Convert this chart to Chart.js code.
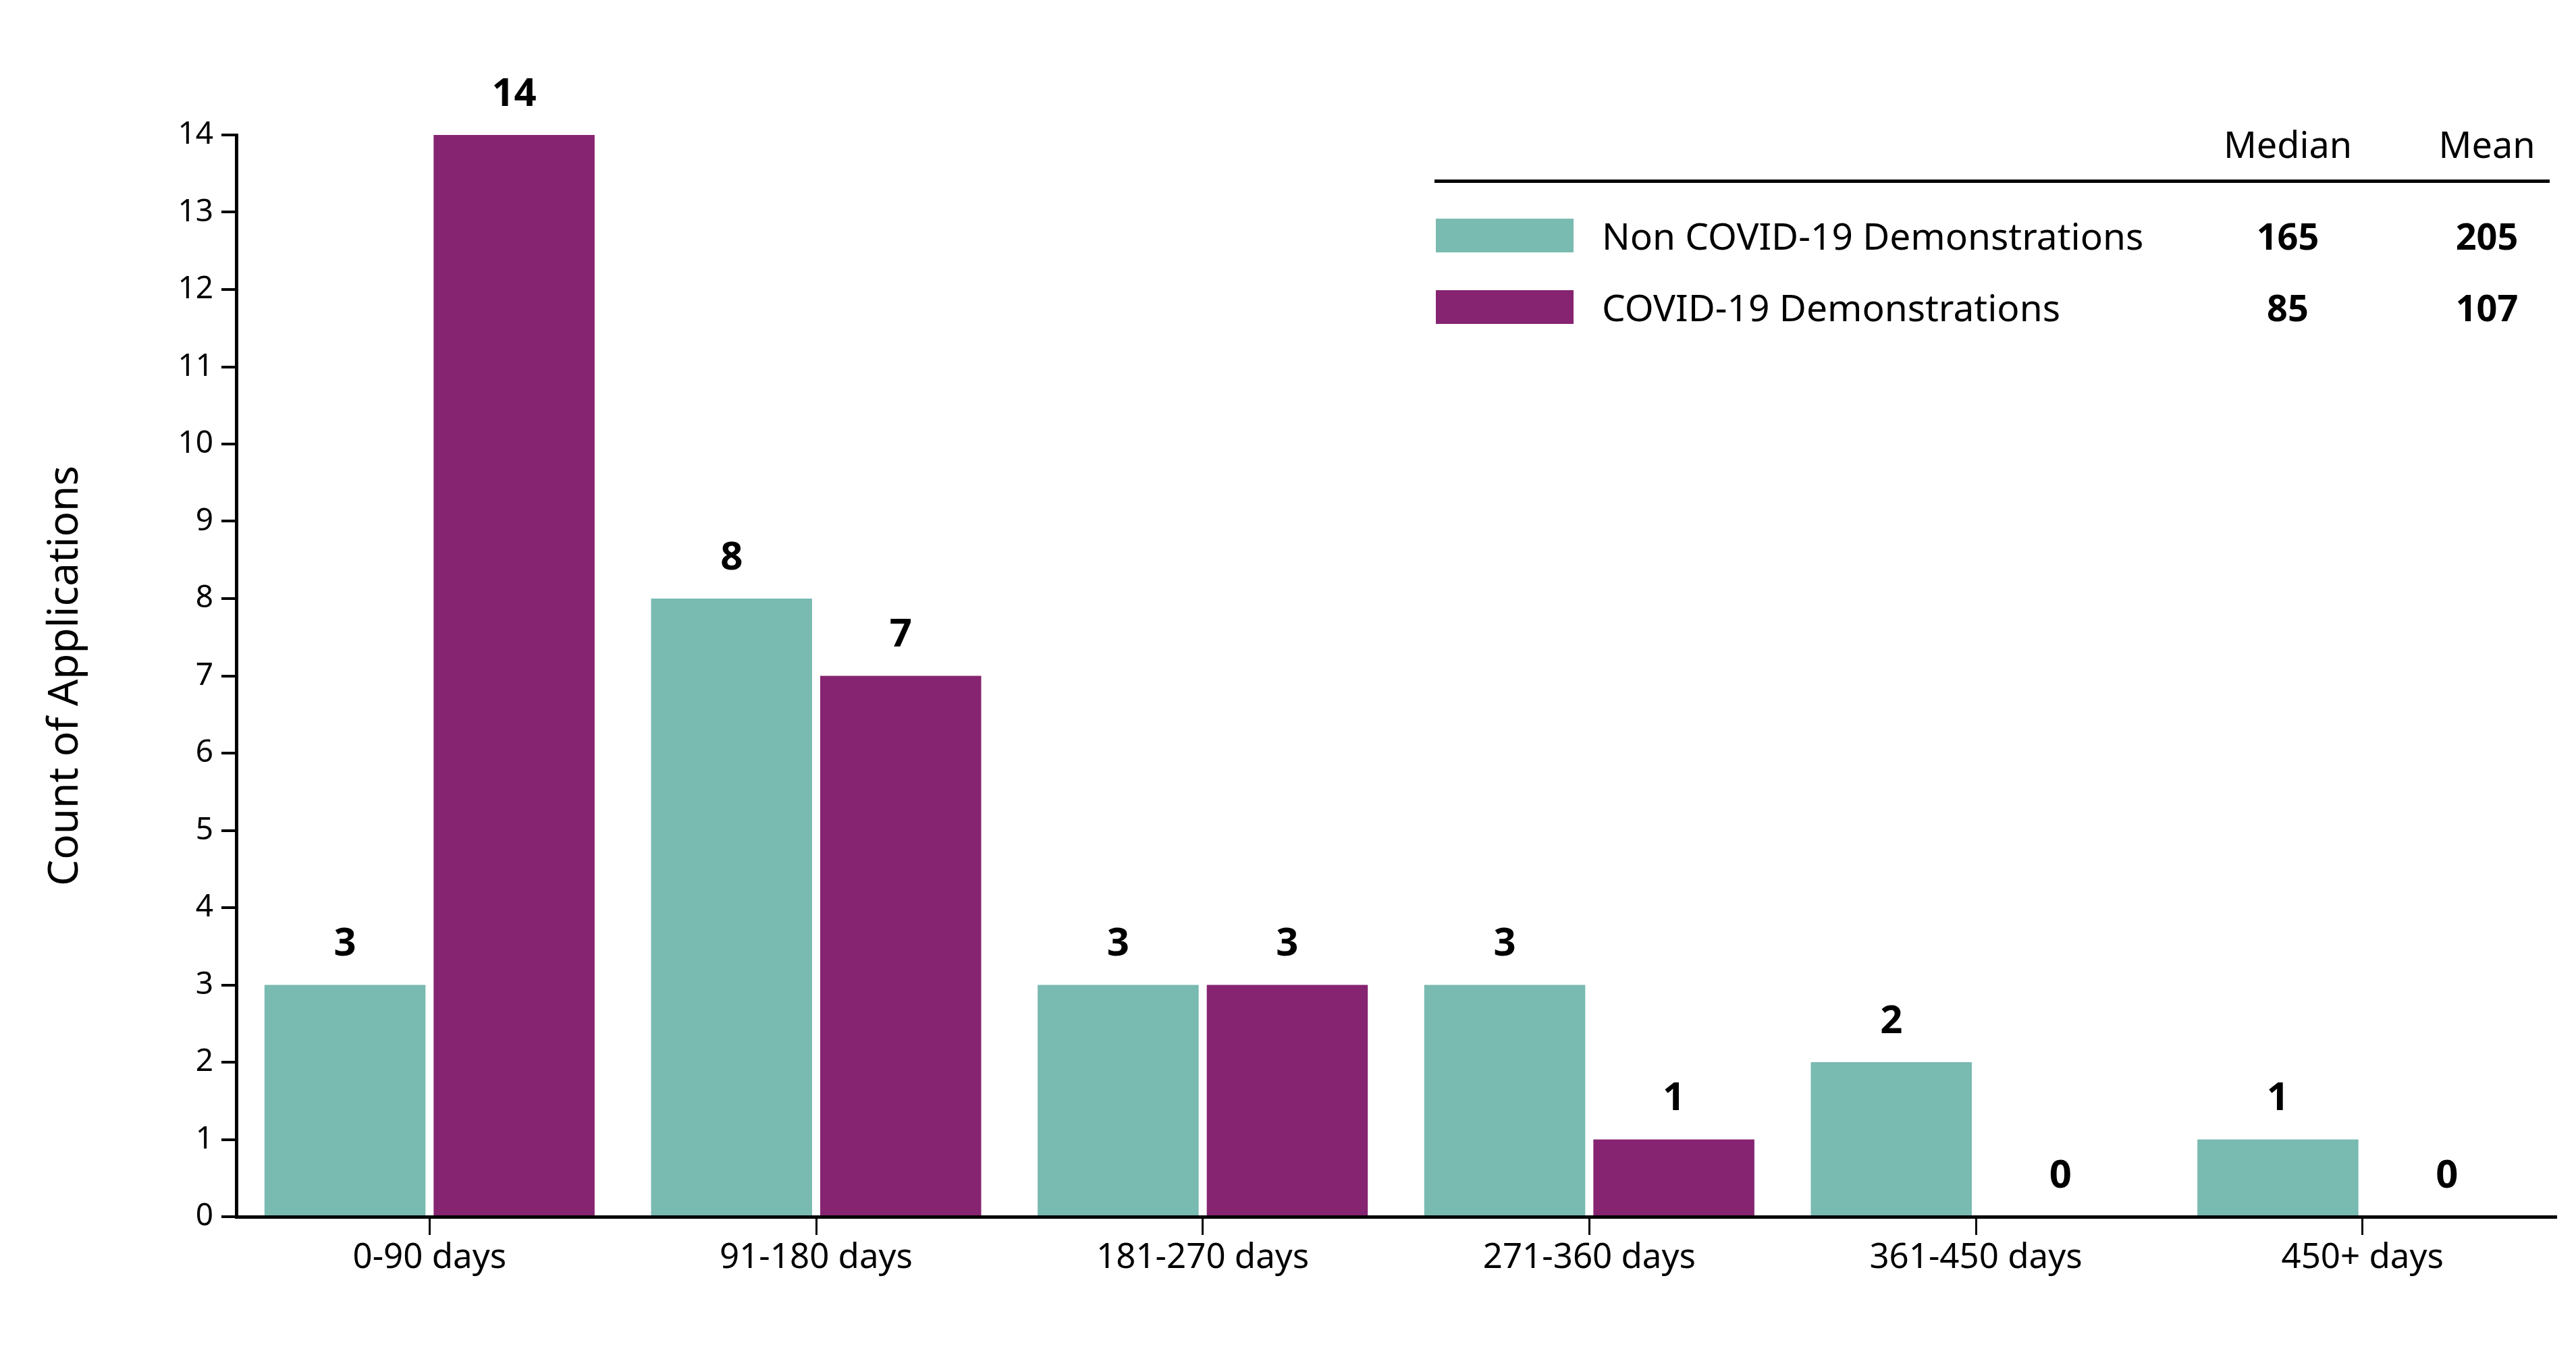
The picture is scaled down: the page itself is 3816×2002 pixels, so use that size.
<!DOCTYPE html>
<html>
<head>
<meta charset="utf-8">
<script src="https://cdn.jsdelivr.net/npm/chart.js@4.4.1/dist/chart.umd.min.js"></script>
<style>
  html, body { margin: 0; padding: 0; background: #fff; }
  #wrap { position: relative; width: 3816px; height: 2002px; }
  #legend { position: absolute; left: 0; top: 0; width: 3816px; height: 520px; pointer-events: none;
    font-family: 'Source Sans Pro', 'Noto Sans', sans-serif; color: #000; }
  .hdr { position: absolute; top: 182px; font-size: 54px; line-height: 62px; transform: translateX(-50%); }
  .rule { position: absolute; left: 2125px; top: 266px; width: 1652px; height: 5px; background: #000; }
  .sw { position: absolute; left: 2127px; width: 204px; height: 50px; }
  .name { position: absolute; left: 2373px; font-size: 55px; line-height: 62px; }
  .val { position: absolute; font-size: 54px; line-height: 62px; font-weight: bold; transform: translateX(-50%); }
</style>
</head>
<body>
<div id="wrap">
  <canvas id="chart"></canvas>
  <div id="legend"></div>
</div>
<script>
const categories = ['0-90 days', '91-180 days', '181-270 days', '271-360 days', '361-450 days', '450+ days'];
const seriesNames = ['Non COVID-19 Demonstrations', 'COVID-19 Demonstrations'];
const nonCovid = [3, 8, 3, 3, 2, 1];
const covid = [14, 7, 3, 1, 0, 0];
const medians = [165, 85];
const means = [205, 107];
const colors = ['#79BAB1', '#862471'];

const FONT = "'Source Sans Pro', 'Noto Sans', sans-serif";

// legend table (Median / Mean)
const legend = document.getElementById('legend');
let html = '<div class="hdr" style="left:3389px">Median</div>' +
           '<div class="hdr" style="left:3684px">Mean</div>' +
           '<div class="rule"></div>';
const rowTops = [324, 430];
seriesNames.forEach((name, i) => {
  const t = rowTops[i];
  html += `<div class="sw" style="top:${t}px;background:${colors[i]}"></div>`;
  html += `<div class="name" style="top:${t - 6}px">${name}</div>`;
  html += `<div class="val" style="top:${t - 6}px;left:3389px">${medians[i]}</div>`;
  html += `<div class="val" style="top:${t - 6}px;left:3684px">${means[i]}</div>`;
});
legend.innerHTML = html;

// value labels above the bars
const barLabels = {
  id: 'barLabels',
  afterDatasetsDraw(chart) {
    const ctx = chart.ctx;
    ctx.save();
    ctx.font = 'bold 58px ' + FONT;
    ctx.fillStyle = '#000';
    ctx.textAlign = 'center';
    ctx.textBaseline = 'middle';
    chart.data.datasets.forEach((ds, i) => {
      chart.getDatasetMeta(i).data.forEach((bar, j) => {
        ctx.fillText(String(ds.data[j]), bar.x, bar.y - 60);
      });
    });
    ctx.restore();
  }
};

const canvas = document.getElementById('chart');
canvas.width = 3816;
canvas.height = 2002;

new Chart(canvas.getContext('2d'), {
  type: 'bar',
  data: {
    labels: categories,
    datasets: [
      { label: seriesNames[0], data: nonCovid, backgroundColor: colors[0] },
      { label: seriesNames[1], data: covid, backgroundColor: colors[1] }
    ]
  },
  options: {
    responsive: false,
    animation: false,
    devicePixelRatio: 1,
    categoryPercentage: 0.875,
    barPercentage: 0.952,
    layout: { padding: { top: 200, right: 30, left: 0, bottom: 0 } },
    plugins: {
      legend: { display: false },
      tooltip: { enabled: false }
    },
    scales: {
      x: {
        grid: { offset: false, drawOnChartArea: false, drawTicks: true, tickLength: 27, color: '#000', lineWidth: 3 },
        border: { color: '#000', width: 5 },
        ticks: { color: '#000', font: { family: FONT, size: 51 }, padding: 4, maxRotation: 0 },
        afterFit(scale) { scale.height = 199; }
      },
      y: {
        min: 0,
        max: 14,
        grid: { drawOnChartArea: false, drawTicks: true, tickLength: 22, color: '#000', lineWidth: 4 },
        border: { color: '#000', width: 5 },
        ticks: { color: '#000', stepSize: 1, font: { family: FONT, size: 46 }, padding: 12 },
        title: {
          display: true,
          text: 'Count of Applications',
          color: '#000',
          font: { family: FONT, size: 62 },
          padding: { top: 60, bottom: 0 }
        },
        afterFit(scale) { scale.width = 350; }
      }
    }
  },
  plugins: [barLabels]
});
</script>
</body>
</html>
